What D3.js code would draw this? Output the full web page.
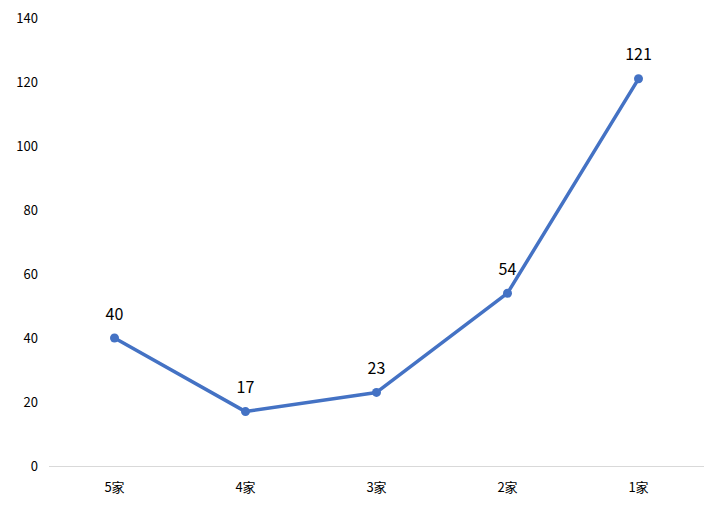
<!DOCTYPE html>
<html><head><meta charset="utf-8">
<script src="https://cdn.jsdelivr.net/npm/d3@7"></script>
<style>body{margin:0;background:#fff;}text{font-family:"Microsoft YaHei","Noto Sans CJK SC",sans-serif;}</style>
</head><body>
<svg id="c" width="723" height="509"></svg>
<script>
const categories = ["5家","4家","3家","2家","1家"];
const values = [40,17,23,54,121];
const yTicks = [0,20,40,60,80,100,120,140];

const svg = d3.select("#c");
const x = d3.scaleBand().domain(categories).range([49,704]);
const y = d3.scaleLinear().domain([0,140]).range([466,18]);

svg.append("g").selectAll("text").data(yTicks).join("text")
  .attr("x",38).attr("y",d=>y(d)).attr("dy","0.35em")
  .attr("text-anchor","end").attr("font-size",13).attr("fill","#000")
  .text(d=>d);

svg.append("line").attr("x1",49).attr("x2",704).attr("y1",466.5).attr("y2",466.5)
  .attr("stroke","#d9d9d9").attr("stroke-width",1);

svg.append("g").selectAll("text").data(categories).join("text")
  .attr("x",d=>x(d)+x.bandwidth()/2).attr("y",487).attr("dy","0.35em")
  .attr("text-anchor","middle").attr("font-size",13).attr("fill","#000")
  .text(d=>d);

const pts = categories.map((c,i)=>({c,v:values[i]}));
const line = d3.line().x(d=>x(d.c)+x.bandwidth()/2).y(d=>y(d.v));
svg.append("path").datum(pts).attr("d",line).attr("fill","none")
  .attr("stroke","#4472c4").attr("stroke-width",3.5).attr("stroke-linejoin","round");

svg.append("g").selectAll("circle").data(pts).join("circle")
  .attr("cx",d=>x(d.c)+x.bandwidth()/2).attr("cy",d=>y(d.v)).attr("r",4.5)
  .attr("fill","#4472c4");

svg.append("g").selectAll("text").data(pts).join("text")
  .attr("x",d=>x(d.c)+x.bandwidth()/2).attr("y",d=>y(d.v)-24).attr("dy","0.35em")
  .attr("text-anchor","middle").attr("font-size",16).attr("fill","#000")
  .text(d=>d.v);
</script>
</body></html>
